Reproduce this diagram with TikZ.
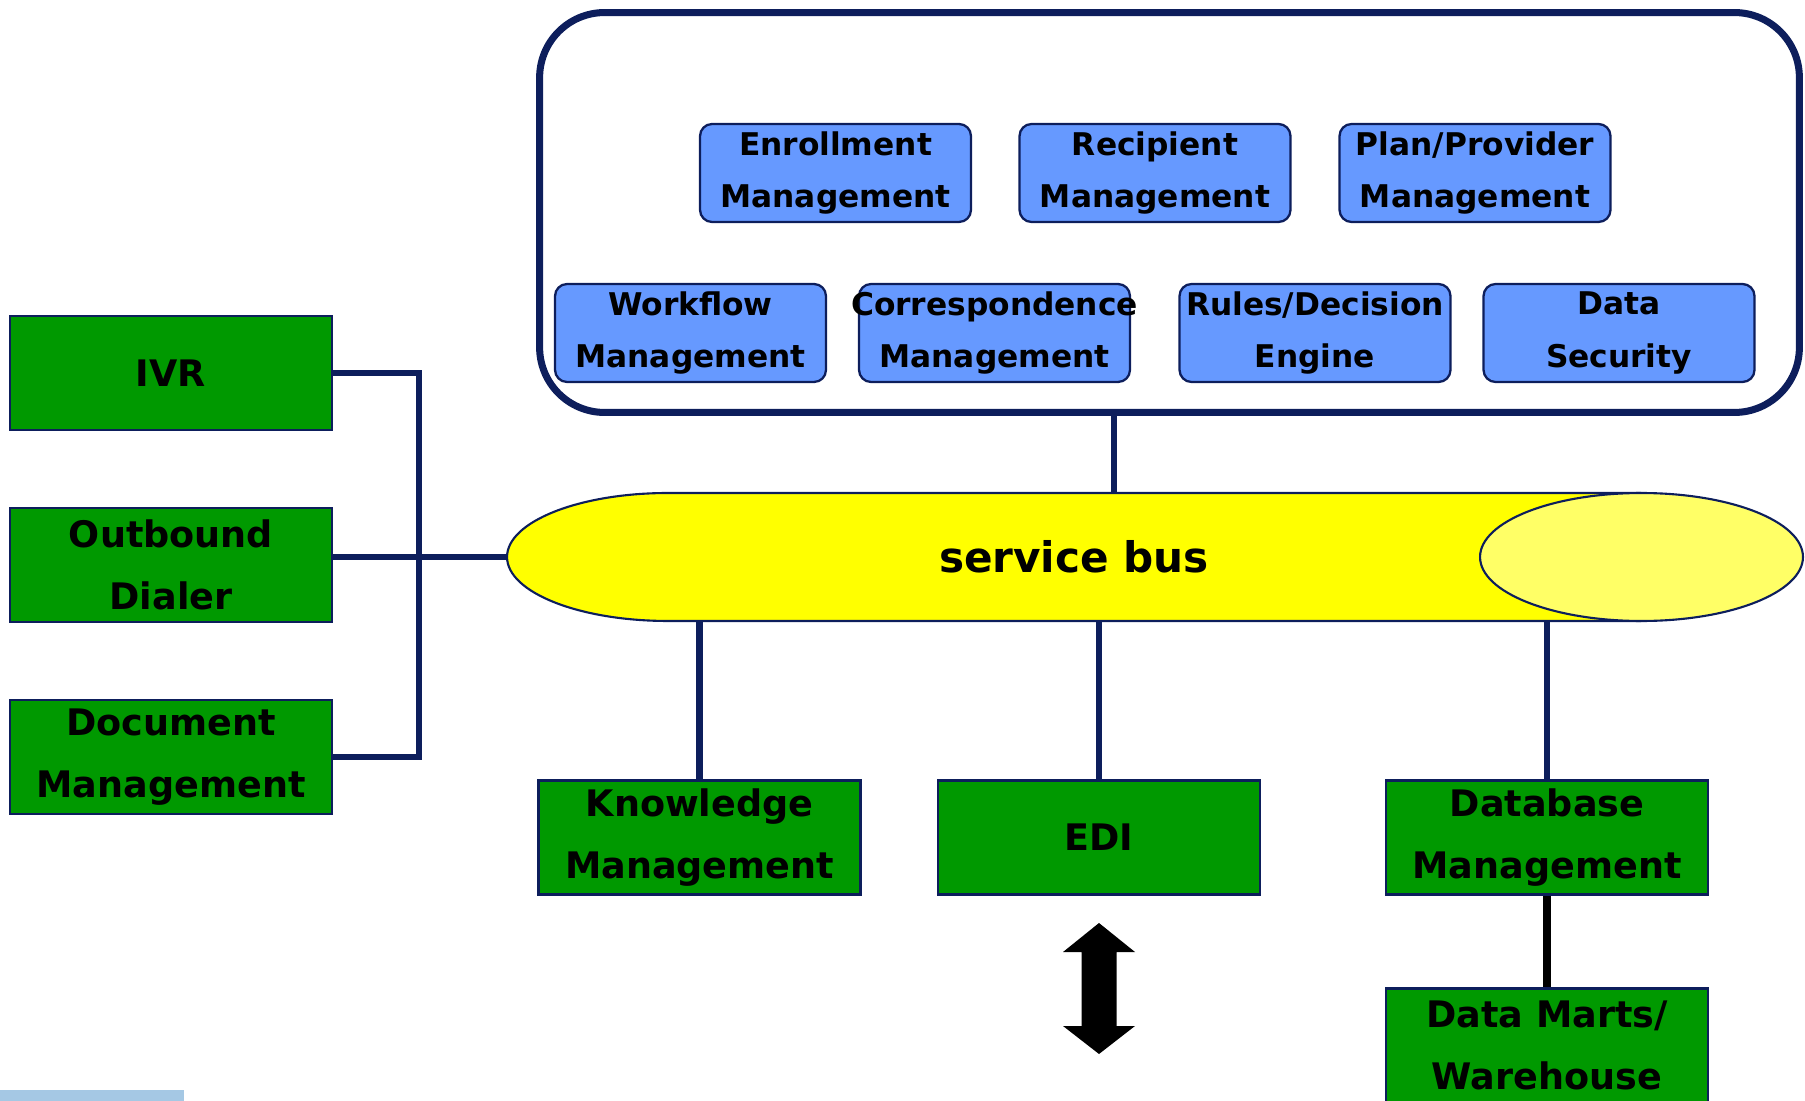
\documentclass[tikz,border=0pt]{standalone}
\usepackage{fontspec}
\setmainfont{DejaVu Sans}
\usepackage{tikz}
\definecolor{navy}{RGB}{13,30,92}
\definecolor{sysgreen}{RGB}{0,153,0}
\definecolor{modblue}{RGB}{102,153,255}
\definecolor{busyellow}{RGB}{255,255,0}
\definecolor{faceyellow}{RGB}{255,255,102}
\definecolor{barblue}{RGB}{165,200,228}
\tikzstyle{module}=[draw=navy,line width=1.3pt,fill=modblue,rounded corners=0.24cm,minimum width=5.42cm,minimum height=1.96cm,inner xsep=0pt,align=center,font=\fontsize{17.8}{30}\selectfont\bfseries]
\tikzstyle{system}=[draw=navy,line width=1.2pt,fill=sysgreen,minimum width=6.44cm,minimum height=2.28cm,inner xsep=0pt,align=center,font=\fontsize{20.8}{35}\selectfont\bfseries]
\tikzstyle{link}=[draw=navy,line width=3.8pt]

\begin{document}
\begin{tikzpicture}[x=0.02cm,y=-0.02cm]
    \useasboundingbox (0,0) rectangle (1805,1101);
    \clip (0,0) rectangle (1805,1101);

    \node (frame) [draw=navy,line width=4pt,rounded corners=1.3cm,minimum width=25.2cm,minimum height=8cm] at (1169.5,212.5) {};
    \node (enrol) [module] at (835.5,173) {Enrollment\\Management};
    \node (recip) [module] at (1155,173) {Recipient\\Management};
    \node (plan) [module] at (1475,173) {Plan/Provider\\Management};
    \node (workflow) [module] at (690.5,333) {Workflow\\Management};
    \node (corresp) [module] at (994.5,333) {\makebox[0pt]{Correspondence}\\Management};
    \node (rules) [module] at (1315,333) {Rules/Decision\\Engine};
    \node (security) [module] at (1619,333) {Data\\Security};

    \filldraw[draw=navy,line width=1.2pt,fill=busyellow] (1641,493) -- (668,493)
        arc[start angle=90,end angle=270,x radius=3.22cm,y radius=1.28cm] -- (1641,621);
    \draw[navy,line width=1.2pt,fill=faceyellow] (1641.5,557) ellipse [x radius=3.23cm,y radius=1.28cm];
    \node (bus) [minimum width=22.68cm,minimum height=2.56cm,font=\fontsize{24}{28}\selectfont\bfseries] at (1074,557) {service bus};

    \node (ivr) [system] at (171,373) {IVR};
    \node (dialer) [system] at (171,565) {Outbound\\Dialer};
    \node (docmgmt) [system] at (171,757) {Document\\Management};
    \node (know) [system] at (699.5,837.5) {Knowledge\\Management};
    \node (edi) [system] at (1099,837.5) {EDI};
    \node (dbmgmt) [system] at (1547,837.5) {Database\\Management};
    \node (marts) [system] at (1547,1045.5) {Data Marts/\\Warehouse};

    \coordinate (joint) at (419,557);
    \coordinate (feed) at (1114,0);
    \draw[link] (ivr.east) -| (joint) |- (docmgmt.east);
    \draw[link] (dialer.east |- bus.west) -- (bus.west);
    \draw[link] (frame.south -| feed) -- (bus.north -| feed);
    \draw[link] (bus.south -| know) -- (know.north);
    \draw[link] (bus.south -| edi) -- (edi.north);
    \draw[link] (bus.south -| dbmgmt) -- (dbmgmt.north);
    \draw[line width=5pt] (dbmgmt.south) -- (marts.north);

    \fill (1099,923) -- (1135,952) -- (1116.5,952) -- (1116.5,1026) -- (1135,1026) -- (1099,1054)
        -- (1063,1026) -- (1081.5,1026) -- (1081.5,952) -- (1063,952) -- cycle;
    \fill[barblue] (0,1090) rectangle (184,1101);
\end{tikzpicture}
\end{document}
